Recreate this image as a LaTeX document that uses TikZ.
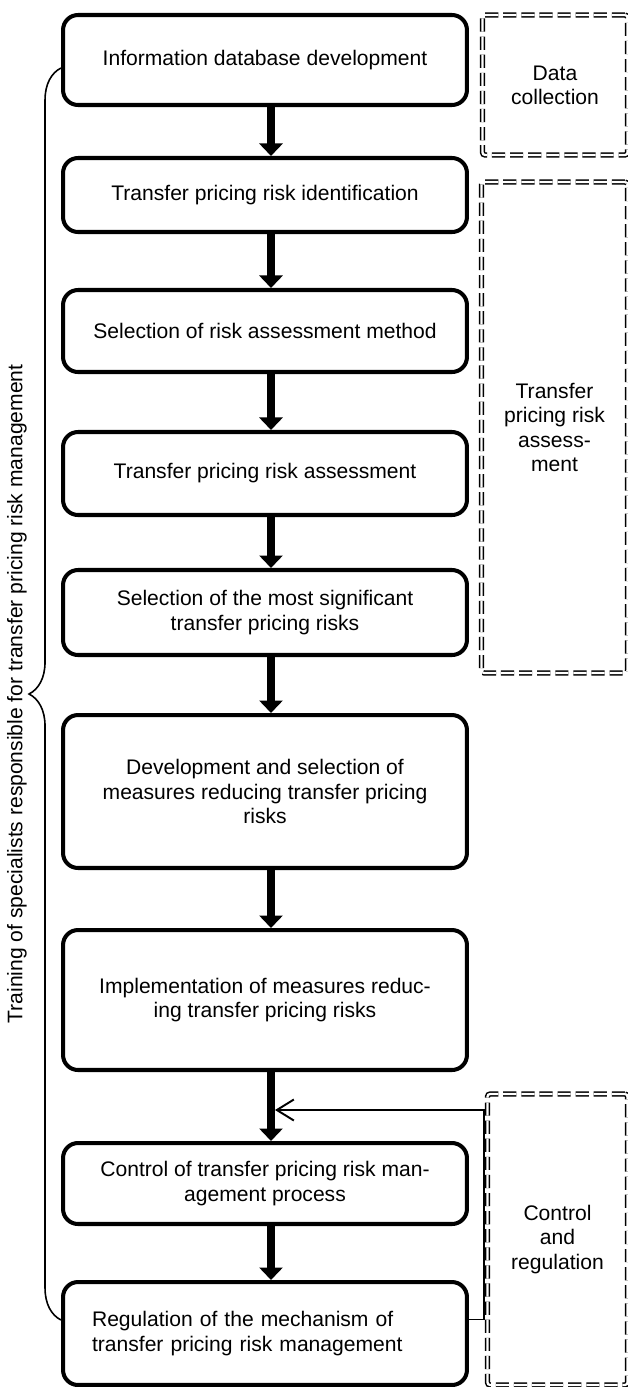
\documentclass[tikz,border=0pt]{standalone}
\usepackage{fontspec}
\setmainfont{Liberation Sans}
\usetikzlibrary{arrows.meta,decorations.pathreplacing}

\tikzset{
    stepbox/.style={draw, line width=2.3pt, rounded corners=0.3cm, minimum width=8.08cm, align=center, inner sep=2pt},
    stagebox/.style={draw, double, double distance=1.3pt, line width=0.85pt, dash pattern=on 7.5pt off 2.8pt, rounded corners=0.05cm, align=center},
    steparrow/.style={line width=4pt, -{Triangle[length=0.25cm, width=0.46cm]}},
    backline/.style={line width=1.1pt, -{Straight Barb[length=0.34cm, width=0.42cm]}}
}

\begin{document}
\begin{tikzpicture}[x=0.02cm, y=-0.02cm, font=\fontsize{12pt}{13.8pt}\selectfont]
    \useasboundingbox (0,0) rectangle (627,1387);

    % Main chain of steps
    \node[stepbox, minimum height=1.8cm]  (s1) at (265,60)   {Information database development};
    \node[stepbox, minimum height=1.48cm] (s2) at (265,195)  {Transfer pricing risk identification};
    \node[stepbox, minimum height=1.64cm] (s3) at (265,331)  {Selection of risk assessment method};
    \node[stepbox, minimum height=1.66cm] (s4) at (265,473.5) {Transfer pricing risk assessment};
    \node[stepbox, minimum height=1.7cm]  (s5) at (265,612.5) {Selection of the most significant\\transfer pricing risks};
    \node[stepbox, minimum height=3.06cm] (s6) at (265,791.5) {Development and selection of\\measures reducing transfer pricing\\risks};
    \node[stepbox, minimum height=2.8cm]  (s7) at (265,1000) {Implementation of measures reduc-\\ing transfer pricing risks};
    \node[stepbox, minimum height=1.62cm] (s8) at (265,1183.5) {Control of transfer pricing risk man-\\agement process};
    \node[stepbox, minimum height=2.06cm, text width=6.92cm, align=left] (s9) at (265,1333.5) {Regulation of the mechanism of\\transfer pricing risk management};

    \foreach \a/\b in {s1/s2, s2/s3, s3/s4, s4/s5, s5/s6, s6/s7, s7/s8, s8/s9}
        \draw[steparrow] ([xshift=1.2mm]\a.south) -- ([xshift=1.2mm]\b.north);

    % Feedback from regulation back to control
    \coordinate (fbend) at (275,1110);
    \draw[backline] ([yshift=0.28cm]s9.east) -- ++(15,0) |- (fbend);

    % Stages on the right
    \node[stagebox, minimum width=2.9cm,  minimum height=2.8cm]  (d1) at (555,85)     {Data\\collection};
    \node[stagebox, minimum width=2.92cm, minimum height=9.82cm] (d2) at (554.5,427.5) {Transfer\\pricing risk\\assess-\\ment};
    \node[stagebox, minimum width=2.8cm,  minimum height=5.82cm] (d3) at (557.5,1239.5) {Control\\and\\regulation};

    % Training brace on the left
    \draw[line width=0.9pt, decorate, decoration={brace, amplitude=0.64cm}]
        ([yshift=0.27cm]s9.west) -- ([yshift=-0.16cm]s1.west);
    \node[rotate=90] (train) at (17,694) {Training of specialists responsible for transfer pricing risk management};
\end{tikzpicture}
\end{document}
